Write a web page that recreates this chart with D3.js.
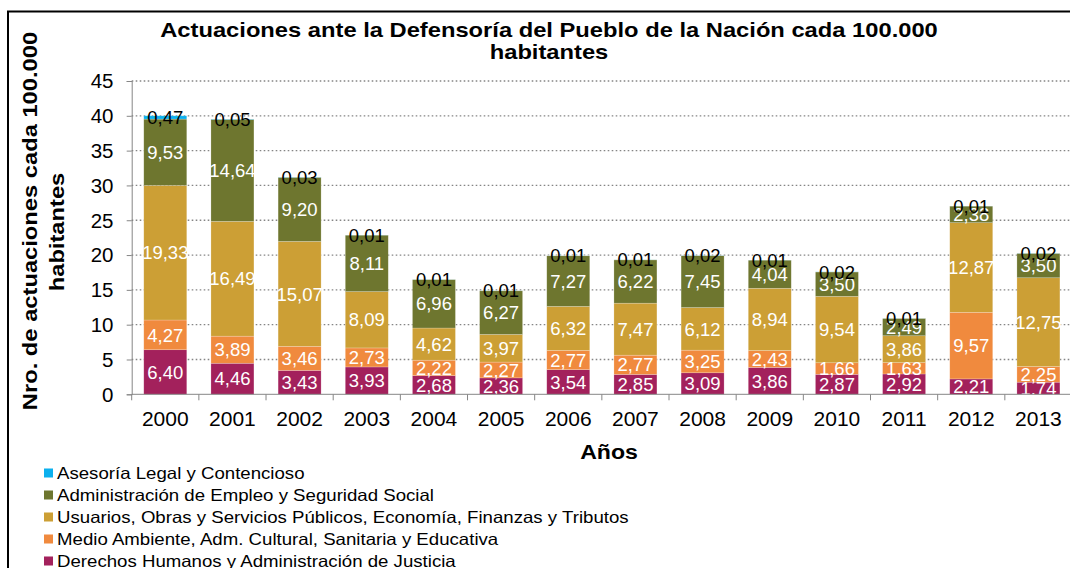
<!DOCTYPE html>
<html><head><meta charset="utf-8">
<script src="https://cdn.jsdelivr.net/npm/d3@7"></script>
<style>body{margin:0;background:#fff}svg{display:block;font-family:"Liberation Sans",Arial,sans-serif}</style>
</head><body><svg id="c" width="1070" height="568"></svg>
<script>
const years = ["2000","2001","2002","2003","2004","2005","2006","2007","2008","2009","2010","2011","2012","2013"];
const seriesNames = [
  "Derechos Humanos y Administración de Justicia",
  "Medio Ambiente, Adm. Cultural, Sanitaria y Educativa",
  "Usuarios, Obras y Servicios Públicos, Economía, Finanzas y Tributos",
  "Administración de Empleo y Seguridad Social",
  "Asesoría Legal y Contencioso"
];
const derechos = [6.40,4.46,3.43,3.93,2.68,2.36,3.54,2.85,3.09,3.86,2.87,2.92,2.21,1.74];
const medio    = [4.27,3.89,3.46,2.73,2.22,2.27,2.77,2.77,3.25,2.43,1.66,1.63,9.57,2.25];
const usuarios = [19.33,16.49,15.07,8.09,4.62,3.97,6.32,7.47,6.12,8.94,9.54,3.86,12.87,12.75];
const empleo   = [9.53,14.64,9.20,8.11,6.96,6.27,7.27,6.22,7.45,4.04,3.50,2.49,2.38,3.50];
const asesoria = [0.47,0.05,0.03,0.01,0.01,0.01,0.01,0.01,0.02,0.01,0.02,0.01,0.01,0.02];
const yTicks = [0,5,10,15,20,25,30,35,40,45];
const colors = ["#A3215C","#F08A3E","#CC9F35","#6E762F","#0BB0EE"];
const labelColors = ["#fff","#fff","#fff","#fff","#000"];

const seriesValues = [derechos, medio, usuarios, empleo, asesoria];
const table = years.map((y,i)=>{const o={year:y}; seriesNames.forEach((s,k)=>o[s]=seriesValues[k][i]); return o;});
const stacked = d3.stack().keys(seriesNames)(table);

const svg = d3.select("#c");
const m = {left:131.7, top:81, right:1072, bottom:394.3};
const x = d3.scaleBand().domain(years).range([m.left, m.right]).paddingInner(0.36).paddingOuter(0.18);
const y = d3.scaleLinear().domain([0,45]).range([m.bottom, m.top]);

function txt(parent, px, py, s, opts){
  const o = Object.assign({size:16, anchor:"start", weight:"normal", fill:"#000", sx:1, rot:0, dy:null}, opts||{});
  const t = parent.append("text")
    .attr("transform", `translate(${px},${py})` + (o.rot?` rotate(${o.rot})`:"") + ` scale(${o.sx},1)`)
    .attr("text-anchor", o.anchor).attr("font-size", o.size).attr("font-weight", o.weight)
    .attr("fill", o.fill).text(s);
  if (o.dy) t.attr("dy", o.dy);
  return t;
}

// outer frame
svg.append("rect").attr("x",8).attr("y",11.5).attr("width",1080).attr("height",580)
  .attr("fill","none").attr("stroke","#000").attr("stroke-width",2);

// gridlines
svg.append("g").selectAll("line").data(yTicks.filter(t=>t>0)).join("line")
  .attr("x1",m.left).attr("x2",1070).attr("y1",d=>y(d)).attr("y2",d=>y(d))
  .attr("stroke","#858585").attr("stroke-width",1.3).attr("stroke-dasharray","1.6,2.4");

// bars
const g = svg.append("g");
stacked.forEach((layer,k)=>{
  g.append("g").selectAll("rect").data(layer).join("rect")
    .attr("x",d=>x(d.data.year)).attr("width",x.bandwidth())
    .attr("y",d=>y(d[1])).attr("height",d=>y(d[0])-y(d[1]))
    .attr("fill",colors[k]).attr("stroke","rgba(255,255,255,0.35)").attr("stroke-width",0.6);
});
// labels
stacked.forEach((layer,k)=>{
  const lg = g.append("g");
  layer.forEach(d=>{
    txt(lg, x(d.data.year)+x.bandwidth()/2, y((d[0]+d[1])/2),
      d3.format(".2f")(d[1]-d[0]).replace(".",","),
      {size:18.5, anchor:"middle", fill:labelColors[k], dy:"0.36em"});
  });
});

// axes
const yAxis = d3.axisLeft(y).tickValues(yTicks).tickSize(5).tickFormat("");
const ya = svg.append("g").attr("transform",`translate(${m.left},0)`).call(yAxis);
ya.select(".domain").attr("stroke","#868686");
ya.selectAll(".tick line").attr("stroke","#868686");
yTicks.forEach(t=>txt(svg, 113.5, y(t), String(t), {size:20.5, anchor:"end", dy:"0.36em"}));

const xa = svg.append("g").attr("transform",`translate(0,${m.bottom})`);
xa.append("line").attr("x1",m.left).attr("x2",1070).attr("y1",0).attr("y2",0).attr("stroke","#868686");
const step = x.step();
const bounds = d3.range(years.length+1).map(i=>m.left+i*step);
xa.selectAll(".tk").data(bounds).join("line").attr("class","tk")
  .attr("x1",d=>d).attr("x2",d=>d).attr("y1",0).attr("y2",6).attr("stroke","#868686");
years.forEach(yr=>txt(xa, x(yr)+x.bandwidth()/2, 31.5, yr, {size:21, anchor:"middle"}));

// title
txt(svg, 549, 37, "Actuaciones ante la Defensoría del Pueblo de la Nación cada 100.000", {size:21, anchor:"middle", weight:"bold", sx:1.13});
txt(svg, 549, 59, "habitantes", {size:21, anchor:"middle", weight:"bold", sx:1.13});

// y title
const yg = svg.append("g").attr("transform","rotate(-90)");
txt(yg, -221, 37, "Nro. de actuaciones cada 100.000", {size:21, anchor:"middle", weight:"bold", sx:1.13});
txt(yg, -232, 64, "habitantes", {size:21, anchor:"middle", weight:"bold", sx:1.13});

// x title
txt(svg, 609, 459, "Años", {size:21, anchor:"middle", weight:"bold", sx:1.1});

// legend (reverse order)
const legendOrder = [4,3,2,1,0];
const lgd = svg.append("g");
legendOrder.forEach((k,i)=>{
  const yy = 473 + i*22;
  lgd.append("rect").attr("x",44).attr("y",yy-4.5).attr("width",9).attr("height",9).attr("fill",colors[k]);
  txt(lgd, 57, yy, seriesNames[k], {size:16.5, dy:"0.36em", sx:1.13});
});
</script></body></html>
